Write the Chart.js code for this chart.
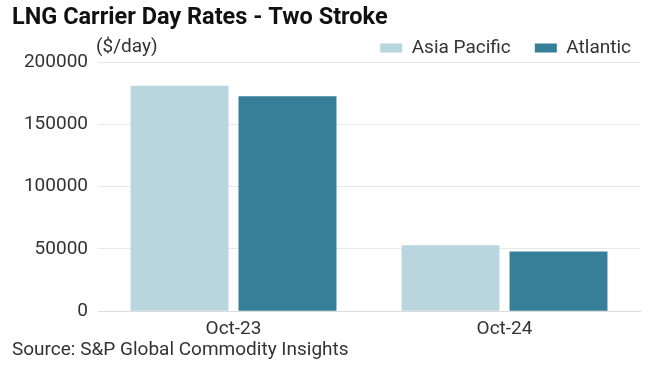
<!DOCTYPE html>
<html><head><meta charset="utf-8">
<script src="https://cdn.jsdelivr.net/npm/chart.js@4"></script>
<style>html,body{margin:0;padding:0;background:#fff}#wrap{width:651px;height:369px;position:relative}</style>
</head><body><div id="wrap"><canvas id="c" width="651" height="369"></canvas></div>
<script>
const categories = ["Oct-23", "Oct-24"];
const asiaPacific = [181000, 53000];
const atlantic = [172500, 48000];
const yTicks = [0, 50000, 100000, 150000, 200000];
const FONT = "Roboto, 'Liberation Sans', sans-serif";

const textPlugin = {
  id: 'texts',
  afterLayout(chart) {
    if (chart.legend) { chart.legend.left += 15; chart.legend.right += 15; }
  },
  afterDraw(chart) {
    const ctx = chart.ctx;
    ctx.save();
    ctx.fillStyle = '#111';
    ctx.font = "bold 23.5px " + FONT;
    ctx.textBaseline = 'middle';
    ctx.textAlign = 'left';
    ctx.fillText('LNG Carrier Day Rates - Two Stroke', 12, 18);
    ctx.fillStyle = '#333';
    ctx.font = "19px " + FONT;
    ctx.fillText('($/day)', 96, 47);
    ctx.fillText('Source: S&P Global Commodity Insights', 12, 350);
    ctx.restore();
  }
};

new Chart(document.getElementById('c'), {
  type: 'bar',
  data: {
    labels: categories,
    datasets: [
      { label: 'Asia Pacific', data: asiaPacific, backgroundColor: '#b9d6de', categoryPercentage: 0.797, barPercentage: 0.907 },
      { label: 'Atlantic', data: atlantic, backgroundColor: '#367f98', categoryPercentage: 0.797, barPercentage: 0.907 }
    ]
  },
  options: {
    responsive: false,
    animation: false,
    layout: { padding: { top: 14.5, right: 11, bottom: 21, left: 0 } },
    plugins: {
      legend: {
        position: 'top', align: 'end', maxHeight: 47.5,
        labels: { boxWidth: 22, boxHeight: 9, padding: 24, color: '#333', font: { size: 19, family: FONT } }
      },
      tooltip: { enabled: false }
    },
    scales: {
      x: {
        grid: { display: false, drawTicks: false },
        border: { color: '#dcdcdc' },
        ticks: { color: '#333', padding: 7, font: { size: 19, family: FONT } }
      },
      y: {
        min: 0, max: 200000,
        afterFit(s) { s.width = 98; },
        afterBuildTicks(s) { s.ticks = yTicks.map(v => ({ value: v })); },
        grid: { color: '#e8e8e8', drawTicks: false },
        border: { display: false },
        ticks: { color: '#333', padding: 10, font: { size: 19, family: FONT }, callback: v => String(v) }
      }
    }
  },
  plugins: [textPlugin]
});
</script></body></html>
